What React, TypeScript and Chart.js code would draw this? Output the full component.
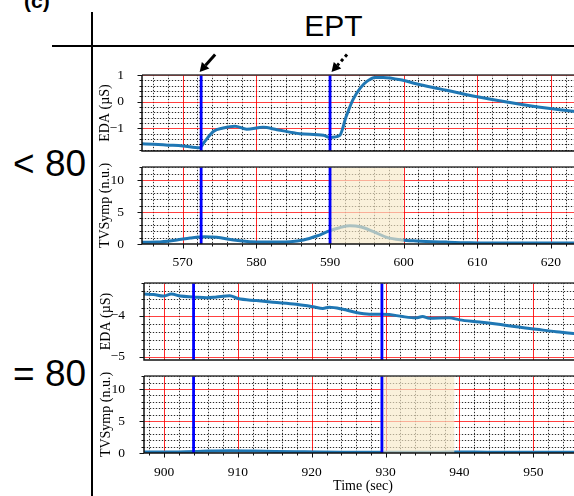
import React, { useEffect, useRef } from "react";
import { Chart, registerables } from "chart.js";
Chart.register(...registerables);

// ---------------- data ----------------
const edaTopTime = [564.4, 566, 568, 570, 572.3, 573, 574.2, 575.5, 577.1, 578.7, 580.9, 582.8, 585.9, 589.1, 590, 591.3, 592.2, 593.1, 594.1, 595, 596.1, 597.2, 599.9, 601.7, 604.9, 608.1, 612.6, 617.1, 623, 624.3];
const edaTopValue = [-1.58, -1.6, -1.63, -1.66, -1.73, -1.49, -1.11, -0.99, -0.92, -1.03, -0.96, -1.05, -1.2, -1.26, -1.34, -1.27, -0.55, 0.07, 0.51, 0.76, 0.91, 0.91, 0.8, 0.67, 0.48, 0.29, 0.05, -0.15, -0.36, -0.4];

const tvTopTime = [564.4, 566.5, 569.2, 571, 573, 574.6, 576.9, 579.1, 581.4, 584.6, 586.4, 588.2, 590, 591.3, 592.7, 594.1, 595.9, 597.7, 599.7, 601.7, 605.8, 609, 615, 624.3];
const tvTopValue = [0.27, 0.3, 0.63, 0.94, 1.15, 1.05, 0.63, 0.37, 0.3, 0.37, 0.63, 1.25, 2.1, 2.55, 2.86, 2.7, 1.93, 1.04, 0.63, 0.47, 0.3, 0.2, 0.15, 0.15];

const edaBotTime = [897.3, 898.6, 899.9, 901, 902.2, 904, 905.8, 907.1, 908.9, 910, 912.5, 914.8, 917.9, 920.2, 921.5, 922.4, 924.2, 926, 927.8, 929.4, 930.5, 932.3, 934.1, 935, 935.9, 938.6, 940, 942.7, 945, 947.7, 950.4, 953.1, 956.6];
const edaBotValue = [-3.47, -3.48, -3.52, -3.47, -3.52, -3.54, -3.56, -3.54, -3.51, -3.58, -3.63, -3.67, -3.72, -3.78, -3.82, -3.79, -3.84, -3.92, -3.96, -3.96, -3.97, -4.02, -4.05, -4.02, -4.06, -4.05, -4.1, -4.15, -4.2, -4.27, -4.33, -4.39, -4.45];

const tvBotTime = [897.3, 900, 903, 906, 909, 912, 915, 918, 921, 924, 927, 930, 933, 936, 939, 942, 945, 948, 951, 954, 956.6];
const tvBotValue = [0.15, 0.15, 0.2, 0.3, 0.35, 0.3, 0.25, 0.2, 0.15, 0.12, 0.1, 0.1, 0.1, 0.12, 0.15, 0.15, 0.12, 0.1, 0.1, 0.1, 0.1];

const topXTicks = [570, 580, 590, 600, 610, 620];
const botXTicks = [900, 910, 920, 930, 940, 950];
const edaTopYTicks = [-1, 0, 1];
const edaBotYTicks = [-5, -4];
const tvYTicks = [0, 5, 10];

const topEvents = [572.5, 590];
const botEvents = [904, 929.5];
const topBand = [590, 600];
const botBand = [929.5, 939.3];

// ---------------- styles ----------------
const SERIF = '"Liberation Serif", "Times New Roman", serif';
const SANS = '"Liberation Sans", Arial, sans-serif';
const LINE_BLUE = "#1f77b4";

type Spec = {
  left: number; top: number; width: number; height: number;
  padTop: number; padBottom: number; yAxisW: number; xAxisH: number;
  xMin: number; xMax: number; yMin: number; yMax: number;
  times: number[]; values: number[];
  xTicks: number[]; yTicks: number[];
  yMinorStep: number; yMajorStep: number;
  showX: boolean; xTickPad: number; xTitle?: string; xTitlePad?: number;
  yTitle: string; yTitlePad: number; yTickPad: number;
  events: number[]; band?: number[]; arrows?: boolean;
};

function steps(lo: number, hi: number, step: number) {
  const out: number[] = [];
  const k0 = Math.ceil(lo / step - 1e-9), k1 = Math.floor(hi / step + 1e-9);
  for (let k = k0; k <= k1; k++) out.push(+(k * step).toFixed(6));
  return out;
}
const isMajor = (v: number, m: number) => Math.abs(v / m - Math.round(v / m)) < 1e-6;

function drawArrow(ctx: CanvasRenderingContext2D, tx: number, ty: number, fx: number, fy: number, dashed: boolean) {
  const ang = Math.atan2(ty - fy, tx - fx);
  const hl = 9, hw = 5;
  const bx = tx - hl * Math.cos(ang), by = ty - hl * Math.sin(ang);
  ctx.save();
  ctx.strokeStyle = "#000";
  ctx.fillStyle = "#000";
  ctx.lineWidth = 3;
  if (dashed) ctx.setLineDash([3, 3]);
  ctx.beginPath(); ctx.moveTo(fx, fy); ctx.lineTo(bx, by); ctx.stroke();
  ctx.setLineDash([]);
  ctx.beginPath();
  ctx.moveTo(tx, ty);
  ctx.lineTo(bx + hw * Math.sin(ang), by - hw * Math.cos(ang));
  ctx.lineTo(bx - hw * Math.sin(ang), by + hw * Math.cos(ang));
  ctx.closePath(); ctx.fill();
  ctx.restore();
}

function makeDeco(s: Spec) {
  return {
    id: "deco",
    beforeDatasetsDraw(chart: any) {
      const { ctx, chartArea: a, scales: { x, y } } = chart;
      ctx.save();
      ctx.beginPath(); ctx.rect(a.left, a.top, a.right - a.left, a.bottom - a.top); ctx.clip();
      const vline = (p: number, color: string, dash: number[]) => {
        const px = Math.round(p) + 0.5;
        ctx.strokeStyle = color; ctx.lineWidth = 1; ctx.setLineDash(dash);
        ctx.beginPath(); ctx.moveTo(px, a.top); ctx.lineTo(px, a.bottom); ctx.stroke();
      };
      const hline = (p: number, color: string, dash: number[]) => {
        const py = Math.round(p) + 0.5;
        ctx.strokeStyle = color; ctx.lineWidth = 1; ctx.setLineDash(dash);
        ctx.beginPath(); ctx.moveTo(a.left, py); ctx.lineTo(a.right, py); ctx.stroke();
      };
      const xs = steps(s.xMin, s.xMax, 2);
      const ys = steps(s.yMin, s.yMax, s.yMinorStep);
      for (const v of xs) if (!isMajor(v, 10)) { const p = x.getPixelForValue(v); vline(p, "rgba(0,0,0,0.14)", []); vline(p, "rgba(0,0,0,0.8)", [1, 2]); }
      for (const v of ys) if (!isMajor(v, s.yMajorStep)) { const p = y.getPixelForValue(v); hline(p, "rgba(0,0,0,0.14)", []); hline(p, "rgba(0,0,0,0.8)", [1, 2]); }
      for (const v of xs) if (isMajor(v, 10)) vline(x.getPixelForValue(v), "rgba(255,0,0,0.85)", []);
      for (const v of ys) if (isMajor(v, s.yMajorStep)) hline(y.getPixelForValue(v), "rgba(255,0,0,0.75)", []);
      ctx.restore();
    },
    afterDatasetsDraw(chart: any) {
      const { ctx, chartArea: a, scales: { x, y } } = chart;
      ctx.save();
      ctx.beginPath(); ctx.rect(a.left, a.top, a.right - a.left, a.bottom - a.top); ctx.clip();
      if (s.band) {
        const b0 = x.getPixelForValue(s.band[0]), b1 = x.getPixelForValue(s.band[1]);
        ctx.fillStyle = "rgba(248,234,200,0.65)";
        ctx.fillRect(b0, a.top, b1 - b0, a.bottom - a.top);
      }
      for (const e of s.events) {
        const p = x.getPixelForValue(e);
        ctx.strokeStyle = "#0000ff"; ctx.lineWidth = 2.8;
        ctx.beginPath(); ctx.moveTo(p, a.top); ctx.lineTo(p, a.bottom); ctx.stroke();
      }
      ctx.restore();
      ctx.save();
      // frame
      ctx.lineWidth = 1.5;
      ctx.strokeStyle = "#3a3a3a";
      ctx.beginPath(); ctx.moveTo(a.left, a.top); ctx.lineTo(a.right, a.top); ctx.stroke();
      ctx.strokeStyle = "#111";
      ctx.beginPath(); ctx.moveTo(a.left, a.top); ctx.lineTo(a.left, a.bottom); ctx.lineTo(a.right, a.bottom); ctx.stroke();
      // y ticks
      ctx.lineWidth = 1;
      for (const v of steps(s.yMin, s.yMax, s.yMinorStep)) {
        const py = Math.round(y.getPixelForValue(v)) + 0.5;
        const len = isMajor(v, s.yMajorStep) ? 4.5 : 2.5;
        ctx.beginPath(); ctx.moveTo(a.left, py); ctx.lineTo(a.left - len, py); ctx.stroke();
      }
      if (s.showX) {
        for (const v of steps(s.xMin, s.xMax, 2)) {
          const px = Math.round(x.getPixelForValue(v)) + 0.5;
          const len = isMajor(v, 10) ? 4.5 : 2.5;
          ctx.beginPath(); ctx.moveTo(px, a.bottom); ctx.lineTo(px, a.bottom + len); ctx.stroke();
        }
      }
      ctx.restore();
      if (s.arrows) {
        const tipY = a.top - 3;
        const p1 = x.getPixelForValue(s.events[0]);
        drawArrow(ctx, p1 - 1.5, tipY, p1 + 14, tipY - 17.5, false);
        const p2 = x.getPixelForValue(s.events[1]);
        drawArrow(ctx, p2 + 1.5, tipY, p2 + 17, tipY - 17.5, true);
      }
    },
  };
}

const fmt = (v: number) => (v < 0 ? "\u2212" + Math.abs(v) : String(v));

function buildConfig(s: Spec): any {
  return {
    type: "line",
    data: {
      datasets: [{
        data: s.times.map((t, i) => ({ x: t, y: s.values[i] })),
        borderColor: LINE_BLUE, borderWidth: 3, pointRadius: 0,
        cubicInterpolationMode: "monotone", fill: false,
      }],
    },
    options: {
      responsive: false, animation: false, events: [],
      layout: { padding: { top: s.padTop, bottom: s.padBottom, left: 0, right: 0 } },
      plugins: { legend: { display: false }, tooltip: { enabled: false } },
      scales: {
        x: {
          type: "linear", min: s.xMin, max: s.xMax, display: s.showX,
          grid: { display: false }, border: { display: false },
          afterBuildTicks: (sc: any) => { sc.ticks = s.xTicks.map((v) => ({ value: v })); },
          afterFit: (sc: any) => {
            if (s.showX) sc.height = s.xAxisH;
            sc.paddingLeft = 0; sc.paddingRight = 0; sc.paddingTop = 0; sc.paddingBottom = 0;
          },
          ticks: { autoSkip: false, maxRotation: 0, padding: s.xTickPad, color: "#000", font: { family: SERIF, size: 13.5 } },
          title: { display: !!s.xTitle, text: s.xTitle || "", color: "#000", font: { family: SERIF, size: 14 }, padding: { top: 0, bottom: s.xTitlePad || 0 } },
        },
        y: {
          type: "linear", min: s.yMin, max: s.yMax,
          grid: { display: false }, border: { display: false },
          afterBuildTicks: (sc: any) => { sc.ticks = s.yTicks.map((v) => ({ value: v })); },
          afterFit: (sc: any) => {
            sc.width = s.yAxisW;
            sc.paddingTop = 0; sc.paddingBottom = 0; sc.paddingLeft = 0; sc.paddingRight = 0;
          },
          ticks: { padding: s.yTickPad, color: "#000", font: { family: SERIF, size: 13.5 }, callback: (v: number) => fmt(v) },
          title: { display: true, text: s.yTitle, color: "#000", font: { family: SERIF, size: 14 }, padding: { top: s.yTitlePad, bottom: 0 } },
        },
      },
    },
    plugins: [makeDeco(s)],
  };
}

const panels: Spec[] = [
  {
    left: 94, top: 48, width: 488, height: 107, padTop: 27, padBottom: 4, yAxisW: 48, xAxisH: 0,
    xMin: 564.47, xMax: 624.21, yMin: -1.85, yMax: 1.0,
    times: edaTopTime, values: edaTopValue, xTicks: topXTicks, yTicks: edaTopYTicks,
    yMinorStep: 0.2, yMajorStep: 1, showX: false, xTickPad: 0,
    yTitle: "EDA (\u00b5S)", yTitlePad: 2.5, yTickPad: 10, events: topEvents, arrows: true,
  },
  {
    left: 94, top: 160, width: 488, height: 110, padTop: 7, padBottom: 0, yAxisW: 48, xAxisH: 26,
    xMin: 564.47, xMax: 624.21, yMin: 0, yMax: 12.03,
    times: tvTopTime, values: tvTopValue, xTicks: topXTicks, yTicks: tvYTicks,
    yMinorStep: 1, yMajorStep: 5, showX: true, xTickPad: 2,
    yTitle: "TVSymp (n.u.)", yTitlePad: 2.5, yTickPad: 10, events: topEvents, band: topBand,
  },
  {
    left: 94, top: 275, width: 488, height: 89, padTop: 8, padBottom: 4, yAxisW: 50, xAxisH: 0,
    xMin: 897.29, xMax: 956.59, yMin: -5.08, yMax: -3.2,
    times: edaBotTime, values: edaBotValue, xTicks: botXTicks, yTicks: edaBotYTicks,
    yMinorStep: 0.2, yMajorStep: 1, showX: false, xTickPad: 0,
    yTitle: "EDA (\u00b5S)", yTitlePad: 3.5, yTickPad: 11, events: botEvents,
  },
  {
    left: 94, top: 369, width: 488, height: 127, padTop: 7, padBottom: 0, yAxisW: 50, xAxisH: 43,
    xMin: 897.29, xMax: 956.59, yMin: 0, yMax: 12.04,
    times: tvBotTime, values: tvBotValue, xTicks: botXTicks, yTicks: tvYTicks,
    yMinorStep: 1, yMajorStep: 5, showX: true, xTickPad: 3, xTitle: "Time (sec)", xTitlePad: 1,
    yTitle: "TVSymp (n.u.)", yTitlePad: 4, yTickPad: 11, events: botEvents, band: botBand,
  },
];

function Panel({ spec }: { spec: Spec }) {
  const ref = useRef<HTMLCanvasElement>(null);
  useEffect(() => {
    const chart = new Chart(ref.current as HTMLCanvasElement, buildConfig(spec));
    return () => chart.destroy();
  }, [spec]);
  return (
    <canvas
      ref={ref}
      width={spec.width}
      height={spec.height}
      style={{ position: "absolute", left: spec.left, top: spec.top, width: spec.width, height: spec.height }}
    />
  );
}

export default function App() {
  return (
    <div style={{ position: "fixed", left: 0, top: 0, width: 574, height: 496, overflow: "hidden", background: "#fff" }}>
      <div style={{ position: "absolute", left: 24, top: -9, font: `bold 21px ${SANS}`, lineHeight: "20px", whiteSpace: "nowrap" }}>(c)</div>
      <div style={{ position: "absolute", left: 93, width: 481, top: 11, textAlign: "center", font: `30px ${SANS}`, lineHeight: "30px" }}>EPT</div>
      <div style={{ position: "absolute", left: 52, top: 45, width: 522, height: 2, background: "#000" }} />
      <div style={{ position: "absolute", left: 91, top: 12, width: 2, height: 484, background: "#000" }} />
      <div style={{ position: "absolute", left: 13, top: 145, font: `37px ${SANS}`, lineHeight: "37px", whiteSpace: "nowrap" }}>{"< 80"}</div>
      <div style={{ position: "absolute", left: 13, top: 355, font: `37px ${SANS}`, lineHeight: "37px", whiteSpace: "nowrap" }}>{"= 80"}</div>
      {panels.map((p, i) => (
        <Panel key={i} spec={p} />
      ))}
    </div>
  );
}
